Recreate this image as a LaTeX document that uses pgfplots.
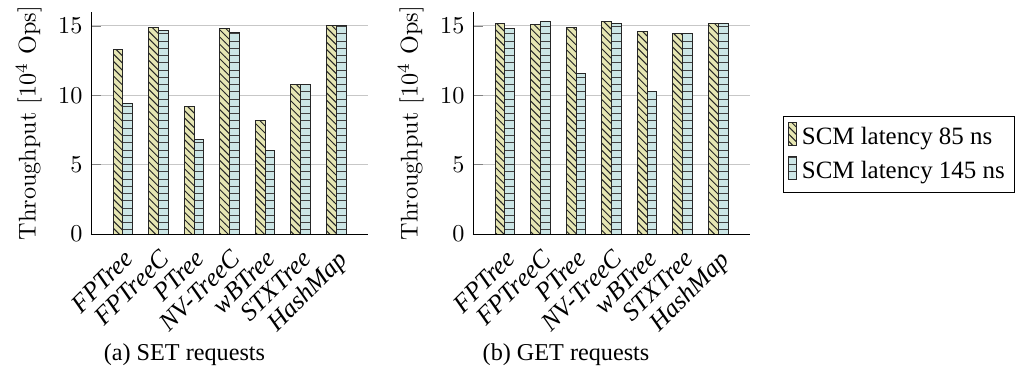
\documentclass[border=0pt]{standalone}
\usepackage{fontspec}
\usepackage{pgfplots}
\pgfplotsset{compat=1.18}
\usetikzlibrary{patterns}
\newfontfamily\lib{Liberation Serif}
\definecolor{barA}{HTML}{E6E6B3}
\definecolor{barB}{HTML}{CCE6E6}

% SET requests: throughput in 10^4 ops
\pgfplotstableread{
x  lat85  lat145
0  13.3   9.4
1  14.85  14.7
2  9.2    6.8
3  14.8   14.55
4  8.2    6.0
5  10.75  10.75
6  15.0   15.0
}\setdata
% GET requests
\pgfplotstableread{
x  lat85  lat145
0  15.17  14.81
1  15.12  15.29
2  14.9   11.54
3  15.31  15.17
4  14.62  10.29
5  14.45  14.45
6  15.17  15.17
}\getdata

\pgfplotsset{
  tputaxis/.style={
    width=114.5pt, height=91.74pt, scale only axis,
    ybar=0pt, bar width=4.1pt,
    xmin=-0.9, xmax=6.9, ymin=0, ymax=16,
    xtick={0,...,6},
    xticklabels={FPTree,FPTreeC,PTree,NV-TreeC,wBTree,STXTree,HashMap},
    xticklabel style={font=\lib\itshape\fontsize{10.6}{12}\selectfont,
      rotate=45, anchor=north east, inner sep=1pt},
    ytick={0,5,10,15},
    ymajorgrids, grid style={black!22},
    axis x line*=bottom, axis y line*=left,
    x tick style={draw=none},
    ylabel={Throughput [$10^4$ Ops]},
    axis line style={black},
  },
  lat85/.style={draw=black!85, fill=barA,
    postaction={pattern=north west lines, pattern color=black!85}},
  lat145/.style={draw=black!85, fill=barB,
    postaction={pattern=horizontal lines, pattern color=black!75}},
}

\begin{document}
\begin{tikzpicture}
\path[use as bounding box] (0,0) rectangle (420.25pt,152.48pt);

\begin{axis}[tputaxis, at={(37.6pt,55.79pt)}, anchor=south west]
  \addplot[lat85] table[x=x, y=lat85] {\setdata};
  \addplot[lat145] table[x=x, y=lat145] {\setdata};
\end{axis}

\begin{axis}[tputaxis, at={(195.45pt,55.79pt)}, anchor=south west,
    legend style={at={(1.119,0.358)}, anchor=west,
      font=\lib\fontsize{10.3}{12}\selectfont,
      draw=black, inner xsep=2pt, inner ysep=2pt, row sep=1pt},
    legend image code/.code={\draw[#1] (0pt,-0.3em) rectangle (3.2pt,0.65em);},
    legend cell align=left]
  \addplot[lat85] table[x=x, y=lat85] {\getdata};
  \addlegendentry{SCM latency 85 ns}
  \addplot[lat145] table[x=x, y=lat145] {\getdata};
  \addlegendentry{SCM latency 145 ns}
\end{axis}

\node[anchor=base, font=\lib] at (76.2pt,3.7pt) {(a) SET requests};
\node[anchor=base, font=\lib] at (233.9pt,3.7pt) {(b) GET requests};
\end{tikzpicture}
\end{document}
